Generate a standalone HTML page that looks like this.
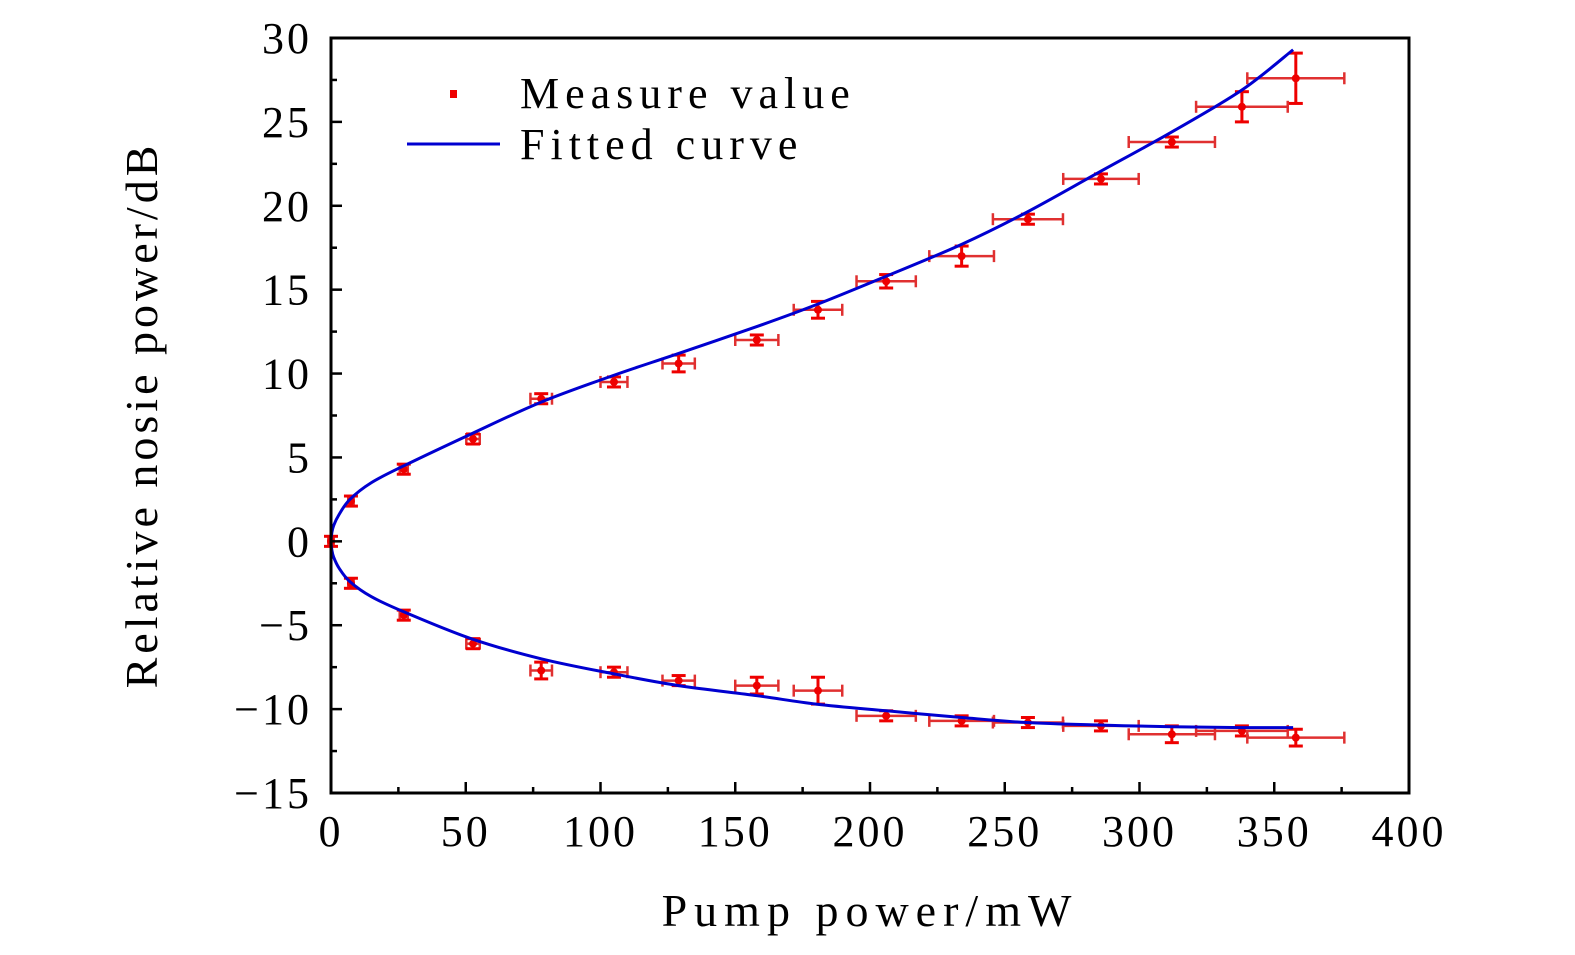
<!DOCTYPE html>
<html><head><meta charset="utf-8"><style>
html,body{margin:0;padding:0;background:#fff;}
svg{display:block;font-family:"Liberation Serif",serif;}
</style></head><body>
<svg id="chart" width="1575" height="955" viewBox="0 0 1575 955">
<g id="marks"></g>
<rect x="331" y="38" width="1078" height="755" fill="none" stroke="#000" stroke-width="3"/>
<g id="axes"></g>
<g>
<rect x="450" y="90" width="7" height="8" fill="#e00"/>
<text x="520" y="108" font-size="44" letter-spacing="6">Measure value</text>
<line x1="407" y1="144" x2="500" y2="144" stroke="#0000d0" stroke-width="3"/>
<text x="520" y="159" font-size="44" letter-spacing="6">Fitted curve</text>
</g>
<text x="870" y="926" font-size="46" text-anchor="middle" letter-spacing="7">Pump power/mW</text>
<text transform="translate(157,415) rotate(-90)" font-size="46" text-anchor="middle" letter-spacing="4">Relative nosie power/dB</text>
</svg>
<script>
const pumpPower=[0,7.4,27,52.7,78,105,129,158,180.7,206,234,258.6,285.7,312,338,358];
const upperNoise=[0,2.4,4.3,6.1,8.5,9.5,10.6,12.0,13.8,15.5,17.0,19.2,21.6,23.8,25.9,27.6];
const upperErr=[0.3,0.3,0.3,0.3,0.3,0.3,0.5,0.3,0.5,0.4,0.6,0.3,0.3,0.3,0.9,1.5];
const lowerNoise=[0,-2.5,-4.4,-6.1,-7.7,-7.8,-8.3,-8.6,-8.9,-10.4,-10.7,-10.8,-11.0,-11.5,-11.3,-11.7];
const lowerErr=[0.3,0.3,0.3,0.3,0.5,0.3,0.3,0.5,0.8,0.3,0.3,0.3,0.3,0.5,0.3,0.5];
const powerErr=[1,1,1.5,2.5,4,5,6,8,9,11,12,13,14,16,17,18];
const fitUpperX=[357,338,312,285,258,234,206,180,158,129,105,78,52,27,15,7,3,1,0.3,0];
const fitUpperY=[29.3,26.9,24.4,22.0,19.6,17.7,15.8,14.1,12.8,11.2,9.9,8.3,6.4,4.5,3.5,2.5,1.6,0.95,0.5,0];
const fitLowerX=[0.3,1,3,7,15,27,52,78,105,129,158,180,206,234,258,285,312,338,357];
const fitLowerY=[-0.5,-0.95,-1.6,-2.4,-3.3,-4.2,-5.8,-7.0,-7.9,-8.6,-9.2,-9.7,-10.1,-10.5,-10.8,-10.95,-11.05,-11.1,-11.1];
const xTicks=[0,50,100,150,200,250,300,350,400];
const yTicks=[30,25,20,15,10,5,0,-5,-10,-15];

const X=v=>331+(v-0)*(1078/400);
const Y=v=>38+(30-v)*(755/45);
const NS="http://www.w3.org/2000/svg";
function mk(tag,attrs,parent){const e=document.createElementNS(NS,tag);for(const k in attrs)e.setAttribute(k,attrs[k]);parent.appendChild(e);return e;}
const axes=document.getElementById('axes'),marks=document.getElementById('marks');

xTicks.forEach((t,i)=>{
 const l=mk('line',{x1:X(t),x2:X(t),y1:793,y2:782,stroke:'#000','stroke-width':2.5},axes);
 
 
 if(i<xTicks.length-1){const m=mk('line',{x1:X(t+25),x2:X(t+25),y1:793,y2:787,stroke:'#000','stroke-width':2.5},axes);
 
 }
 const tx=mk('text',{x:X(t),y:846,'font-size':44,'text-anchor':'middle','letter-spacing':3},axes);
 tx.textContent=String(t);
 
 
});
yTicks.forEach((t,i)=>{
 const l=mk('line',{x1:331,x2:342,y1:Y(t),y2:Y(t),stroke:'#000','stroke-width':2.5},axes);
 
 
 if(i<yTicks.length-1){const m=mk('line',{x1:331,x2:337,y1:Y(t-2.5),y2:Y(t-2.5),stroke:'#000','stroke-width':2.5},axes);
 
 }
 const tx=mk('text',{x:312,y:Y(t)+15,'font-size':44,'text-anchor':'end','letter-spacing':3},axes);
 tx.textContent=t<0?'\u2212'+Math.abs(t):String(t);
 
 
});

function errPoint(x,y,ex,ey,name){
 const g=mk('g',{},marks);
 
 
 const c='#e03030';
 mk('line',{x1:X(x-ex),x2:X(x+ex),y1:Y(y),y2:Y(y),stroke:c,'stroke-width':2.5},g);
 mk('line',{x1:X(x-ex),x2:X(x-ex),y1:Y(y)-6,y2:Y(y)+6,stroke:c,'stroke-width':2.5},g);
 mk('line',{x1:X(x+ex),x2:X(x+ex),y1:Y(y)-6,y2:Y(y)+6,stroke:c,'stroke-width':2.5},g);
 mk('line',{x1:X(x),x2:X(x),y1:Y(y+ey),y2:Y(y-ey),stroke:'#e00','stroke-width':3},g);
 mk('line',{x1:X(x)-7,x2:X(x)+7,y1:Y(y+ey),y2:Y(y+ey),stroke:'#e00','stroke-width':3},g);
 mk('line',{x1:X(x)-7,x2:X(x)+7,y1:Y(y-ey),y2:Y(y-ey),stroke:'#e00','stroke-width':3},g);
 mk('circle',{cx:X(x),cy:Y(y),r:4,fill:'#e00'},g);
}
pumpPower.forEach((p,i)=>{
 errPoint(p,upperNoise[i],powerErr[i],upperErr[i],'upper-point');
 if(i>0)errPoint(p,lowerNoise[i],powerErr[i],lowerErr[i],'lower-point');
});

const px=fitUpperX.concat(fitLowerX),py=fitUpperY.concat(fitLowerY);
const pts=px.map((v,i)=>[X(v),Y(py[i])]);
let d='M'+pts[0][0]+','+pts[0][1];
for(let i=0;i<pts.length-1;i++){
 const p0=pts[Math.max(0,i-1)],p1=pts[i],p2=pts[i+1],p3=pts[Math.min(pts.length-1,i+2)];
 const c1=[p1[0]+(p2[0]-p0[0])/6,p1[1]+(p2[1]-p0[1])/6],c2=[p2[0]-(p3[0]-p1[0])/6,p2[1]-(p3[1]-p1[1])/6];
 d+=` C${c1[0]},${c1[1]} ${c2[0]},${c2[1]} ${p2[0]},${p2[1]}`;
}
const fit=mk('path',{d:d,fill:'none',stroke:'#0000d0','stroke-width':3},marks);


</script>
</body></html>
